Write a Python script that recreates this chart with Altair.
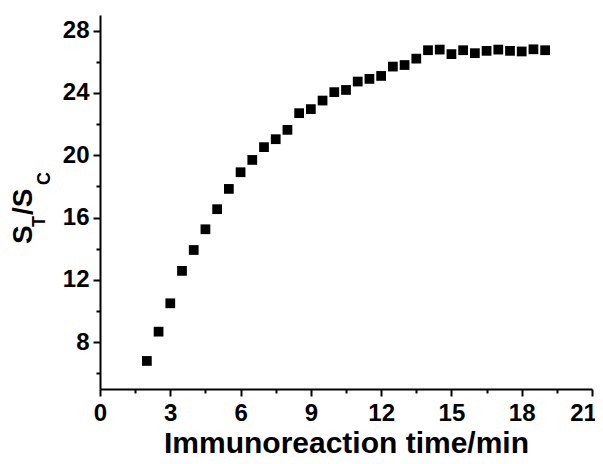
import altair as alt
import pandas as pd

# Data
time_min = [2, 2.5, 3, 3.5, 4, 4.5, 5, 5.5, 6, 6.5, 7, 7.5, 8, 8.5, 9, 9.5,
            10, 10.5, 11, 11.5, 12, 12.5, 13, 13.5, 14, 14.5, 15, 15.5, 16,
            16.5, 17, 17.5, 18, 18.5, 19]
ratio = [6.80, 8.68, 10.50, 12.58, 13.92, 15.25, 16.54, 17.84, 18.91, 19.70,
         20.52, 21.03, 21.63, 22.70, 22.96, 23.51, 24.05, 24.19, 24.73, 24.90,
         25.09, 25.69, 25.79, 26.20, 26.74, 26.78, 26.49, 26.74, 26.55, 26.70,
         26.78, 26.70, 26.66, 26.80, 26.74]

x_ticks = [0, 1.5, 3, 4.5, 6, 7.5, 9, 10.5, 12, 13.5, 15, 16.5, 18, 19.5, 21]
y_ticks = [6, 8, 10, 12, 14, 16, 18, 20, 22, 24, 26, 28]

df = pd.DataFrame({"t": time_min, "r": ratio})

FONT = "Liberation Sans"
W, H = 492, 374

points = alt.Chart(df).mark_square(size=95, color="black", opacity=1).encode(
    x=alt.X("t:Q",
            scale=alt.Scale(domain=[0, 21], nice=False, zero=False),
            axis=alt.Axis(
                values=x_ticks,
                title="Immunoreaction time/min",
                titleFont=FONT, titleFontSize=30, titleFontWeight="bold",
                titleColor="black", titlePadding=3,
                labelExpr="datum.value % 3 === 0 ? datum.label : ''",
                labelFont=FONT, labelFontSize=24, labelFontWeight="bold",
                labelColor="black", labelPadding=5, labelFlush=False,
                labelOverlap=False,
                labelOffset={"condition": {"test": "datum.value === 21", "value": -9}, "value": 0},
                tickSize={"condition": {"test": "datum.value % 3 === 0", "value": 7}, "value": 4},
                tickColor="black", tickWidth=2,
                domainColor="black", domainWidth=2, grid=False,
            )),
    y=alt.Y("r:Q",
            scale=alt.Scale(domain=[5, 29], nice=False, zero=False),
            axis=alt.Axis(
                values=y_ticks,
                title=None,
                labelExpr="datum.value % 4 === 0 ? datum.label : ''",
                labelFont=FONT, labelFontSize=24, labelFontWeight="bold",
                labelColor="black", labelPadding=4, labelOverlap=False,
                tickSize={"condition": {"test": "datum.value % 4 === 0", "value": 7}, "value": 4},
                tickColor="black", tickWidth=2,
                domainColor="black", domainWidth=2, grid=False,
            )),
)

one = alt.Data(values=[{"a": 1}])

def piece(txt, size, x, y):
    return alt.Chart(one).mark_text(
        text=txt, font=FONT, fontSize=size, fontWeight="bold", color="black",
        angle=270, align="left", baseline="alphabetic",
    ).encode(x=alt.value(x), y=alt.value(y))

ytitle = (piece("S", 28, -68, 229) + piece("T", 18, -55, 212)
          + piece("/S", 28, -68, 200) + piece("C", 18, -50, 170))

chart = alt.layer(points, ytitle).properties(
    width=W, height=H,
    autosize=alt.AutoSizeParams(type="none"),
    padding={"left": 92, "top": 7, "right": 3, "bottom": 67},
).configure_view(stroke=None)

chart.save("out.html", embed_options={"renderer": "svg", "actions": False})
